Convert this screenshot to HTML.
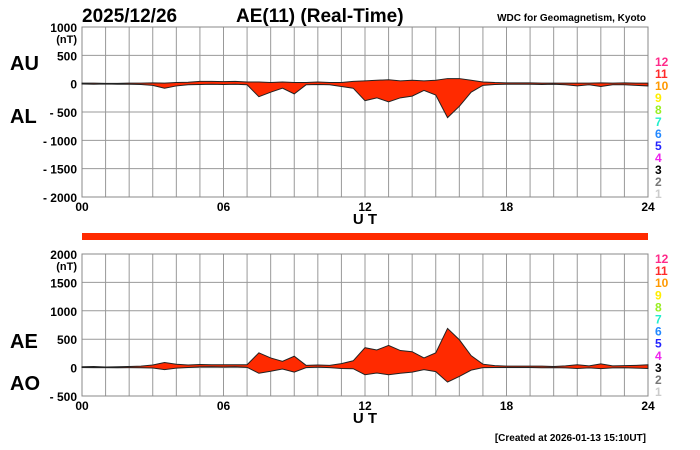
<!DOCTYPE html>
<html><head><meta charset="utf-8"><style>
body{margin:0;background:#fff;width:700px;height:450px;overflow:hidden;font-family:"Liberation Sans",sans-serif}
svg{display:block}
</style></head><body>
<svg id="c" width="700" height="450" font-family="Liberation Sans, sans-serif"></svg>
<script>
const hours = [0,0.5,1,1.5,2,2.5,3,3.5,4,4.5,5,5.5,6,6.5,7,7.5,8,8.5,9,9.5,10,10.5,11,11.5,12,12.5,13,13.5,14,14.5,15,15.5,16,16.5,17,17.5,18,18.5,19,19.5,20,20.5,21,21.5,22,22.5,23,23.5,24];
const au = [10,10,5,5,10,10,15,10,20,25,40,40,35,40,30,30,20,30,20,20,30,20,20,40,50,60,70,50,60,50,60,90,90,60,30,20,15,15,15,10,10,10,10,10,15,10,15,10,10];
const al = [-5,-10,-5,-10,-10,-15,-30,-80,-40,-20,-15,-10,-15,-10,-20,-230,-150,-80,-180,-20,-15,-20,-50,-80,-300,-250,-320,-250,-220,-120,-200,-600,-400,-150,-30,-15,-10,-10,-10,-15,-10,-20,-40,-20,-50,-20,-20,-30,-40];
const ae = [15,20,10,15,20,25,45,90,60,45,55,50,50,50,50,260,170,110,200,40,45,40,70,120,350,310,390,300,280,170,260,690,490,210,60,35,25,25,25,25,20,30,50,30,65,30,35,40,50];
const ao = [2,0,0,-2,0,-2,-8,-35,-10,2,12,15,10,15,5,-100,-65,-25,-80,0,8,0,-15,-20,-125,-95,-125,-100,-80,-35,-70,-255,-155,-45,0,2,2,2,2,-2,0,-5,-15,-5,-18,-5,-2,-10,-15];
const topTicks = [1000,500,0,-500,-1000,-1500,-2000];
const botTicks = [2000,1500,1000,500,0,-500];
const xTicks = [0,6,12,18,24];
const levels = ['12','11','10','9','8','7','6','5','4','3','2','1'];
const levelColors = ['#ff2a8a','#ff2a2a','#ff9900','#ffee00','#99ee22','#22eecc','#2288ff','#2222ff','#ee22ee','#000','#777','#ccc'];

const svg = document.getElementById('c');
const NS = 'http://www.w3.org/2000/svg';
function mk(tag, attrs, parent){const e=document.createElementNS(NS,tag);for(const k in attrs)e.setAttribute(k,attrs[k]);(parent||svg).appendChild(e);return e;}
const X0=82,X1=648;
const xs = h => X0 + h/24*(X1-X0);

function panel(name, yTop, yBot, vTop, vBot, ticks, upper, lower, lab1, lab2, lab1y, lab2y, legY, legStep){
  const ys = v => yTop + (vTop - v)/(vTop - vBot)*(yBot-yTop);
  const g = mk('g',{});
  
  
  for(let h=1;h<24;h++){mk('line',{x1:xs(h),x2:xs(h),y1:yTop,y2:yBot,stroke:'#999','stroke-width':1},g);}
  ticks.forEach(t=>{mk('line',{x1:X0,x2:X1,y1:ys(t),y2:ys(t),stroke:'#999','stroke-width':1},g);
    const tx=mk('text',{x:77,y:ys(t)+5,'text-anchor':'end','font-size':12,'font-weight':'bold'},g);tx.textContent=(t<0?'- '+(-t):t);
    });
  const u=mk('text',{x:77,y:ys(ticks[0])+16,'text-anchor':'end','font-size':11,'font-weight':'bold'},g);u.textContent='(nT)';
  
  mk('rect',{x:X0,y:yTop,width:X1-X0,height:yBot-yTop,fill:'none',stroke:'#888'},g);
  let d='M'+hours.map((h,i)=>xs(h)+','+ys(upper[i])).join(' L');
  d+=' L'+hours.map((h,i)=>xs(h)+','+ys(lower[i])).reverse().join(' L')+' Z';
  const p=mk('path',{d:d,fill:'#ff2a00',stroke:'#222','stroke-width':1},g);
  
  xTicks.forEach(t=>{const tx=mk('text',{x:xs(t),y:yBot+14,'text-anchor':'middle','font-size':12,'font-weight':'bold'},g);tx.textContent=String(t).padStart(2,'0');
    });
  const ut=mk('text',{x:365,y:yBot+27,'text-anchor':'middle','font-size':15,'font-weight':'bold'},g);ut.textContent='U T';
  
  [[lab1,lab1y],[lab2,lab2y]].forEach(([s,y])=>{const tx=mk('text',{x:10,y:y,'font-size':20,'font-weight':'bold'},g);tx.textContent=s;
    });
  levels.forEach((s,i)=>{const tx=mk('text',{x:655,y:legY+i*legStep,'font-size':12,'font-weight':'bold',fill:levelColors[i]},g);tx.textContent=s;
    });
}
panel('au-al',27,197,1000,-2000,topTicks,au,al,'AU','AL',70,123,66,12);
panel('ae-ao',254,396,2000,-500,botTicks,ae,ao,'AE','AO',348,390,263,12.1);

const bar=mk('rect',{x:82,y:233,width:566,height:7,fill:'#ff2a00'});

const t1=mk('text',{x:82,y:22,'font-size':19,'font-weight':'bold'});t1.textContent='2025/12/26';

const t2=mk('text',{x:236,y:22,'font-size':19,'font-weight':'bold'});t2.textContent='AE(11) (Real-Time)';

const t3=mk('text',{x:646,y:21,'font-size':10,'font-weight':'bold','text-anchor':'end'});t3.textContent='WDC for Geomagnetism, Kyoto';

const t4=mk('text',{x:646,y:441,'font-size':10,'font-weight':'bold','text-anchor':'end'});t4.textContent='[Created at 2026-01-13 15:10UT]';

</script>
</body></html>
